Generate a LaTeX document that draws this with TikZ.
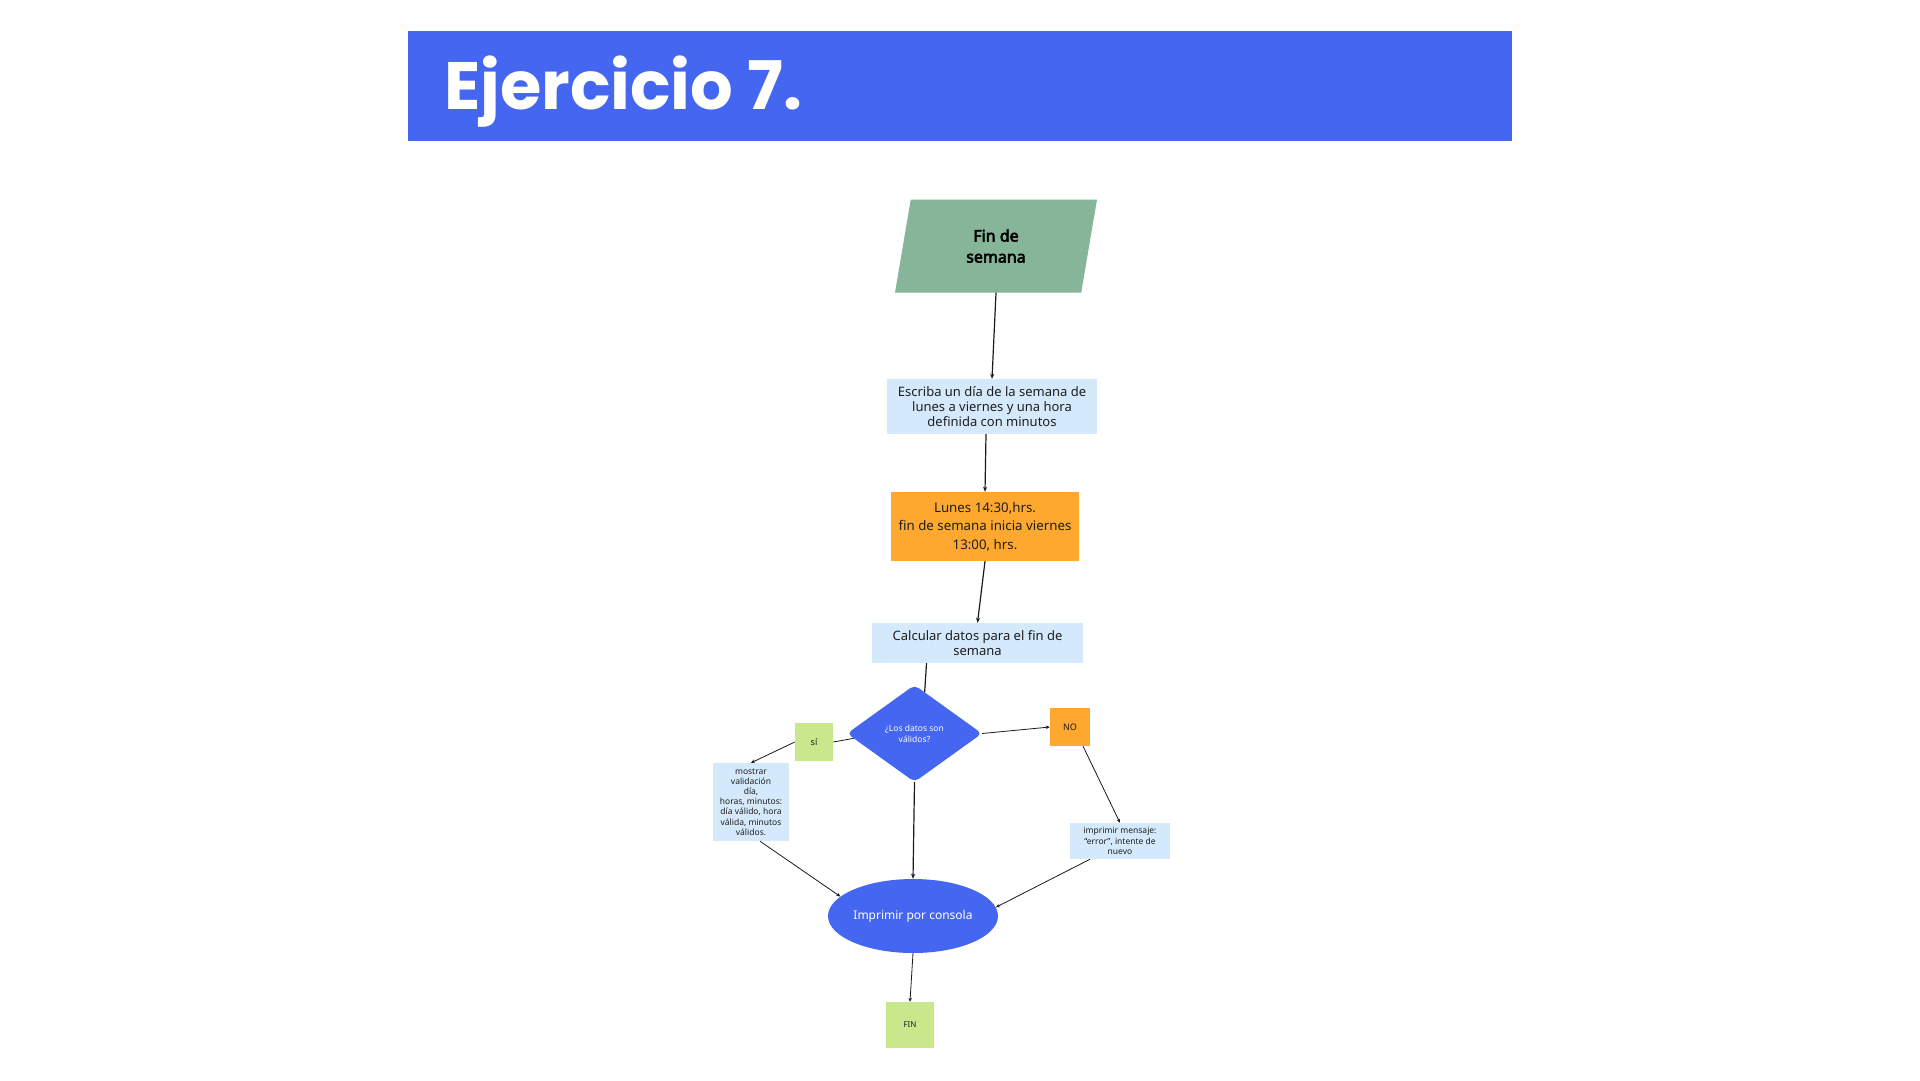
\documentclass[tikz,border=0pt]{standalone}
\usepackage{fontspec}
\setmainfont{Noto Sans}[AutoFakeBold=3.5]
\newfontfamily\titlefont{Poppins}
\usetikzlibrary{shapes.geometric,arrows.meta,calc}
\definecolor{hdrblue}{HTML}{4466F0}
\definecolor{paragreen}{HTML}{87B59A}
\definecolor{boxblue}{HTML}{D4EAFC}
\definecolor{boxorange}{HTML}{FEA82F}
\definecolor{boxgreen}{HTML}{C9E88B}
\definecolor{txtdark}{HTML}{1E1E1E}
\definecolor{lnk}{HTML}{1A1A1A}
\begin{document}
\begin{tikzpicture}[x=1pt,y=-1pt,
  flowbox/.style={rectangle, inner sep=0pt, align=center, text=txtdark},
  lbox/.style={flowbox, fill=boxblue},
  obox/.style={flowbox, fill=boxorange},
  gbox/.style={flowbox, fill=boxgreen},
  arr/.style={draw=lnk, line width=1.2pt, -{Stealth[length=5pt,width=4pt]}},
  sarr/.style={draw=lnk, line width=0.8pt, -{Stealth[length=4pt,width=3.5pt]}}]
\useasboundingbox (0,0) rectangle (1920,1080);
\node[rectangle, fill=hdrblue, minimum width=1104, minimum height=110, inner sep=0pt] (hdr) at (960,86){};
\node[anchor=base west, text=white, inner sep=0pt, font=\titlefont\bfseries\fontsize{67}{84}\selectfont] (title) at (444,109){Ejercicio 7.};
\node[trapezium, trapezium left angle=64.7, trapezium right angle=115.3, trapezium stretches body, minimum width=202, minimum height=93, inner sep=0pt, fill=paragreen, align=center, font=\bfseries\fontsize{16}{21}\selectfont] (fds) at (996,246){Fin de\\semana};
\node[lbox, minimum width=210, minimum height=55, font=\fontsize{13}{15}\selectfont] (esc) at (992,406.5){Escriba un día de la semana de\\lunes a viernes y una hora\\definida con minutos};
\node[obox, minimum width=188, minimum height=69, font=\fontsize{13.3}{18.5}\selectfont] (lun) at (985,526.5){Lunes 14:30,hrs.\\fin de semana inicia viernes\\13:00, hrs.};
\node[lbox, minimum width=211, minimum height=40, font=\fontsize{13}{15}\selectfont] (calc) at (977.5,643){Calcular datos para el fin de\\semana};
\node[diamond, fill=hdrblue, minimum width=135, minimum height=97, inner sep=0pt, rounded corners=5pt, align=center, text=white, font=\fontsize{8.5}{11}\selectfont] (dia) at (914.5,733.5){¿Los datos son\\válidos?};
\node[gbox, minimum width=38, minimum height=38, font=\fontsize{9}{11}\selectfont] (si) at (814,742){sí};
\node[obox, minimum width=40, minimum height=38, font=\fontsize{9}{11}\selectfont] (no) at (1070,727){NO};
\node[lbox, minimum width=76, minimum height=78, font=\fontsize{8.5}{10.2}\selectfont] (most) at (751,802){mostrar\\validación\\día,\\horas, minutos:\\día válido, hora\\válida, minutos\\válidos.};
\node[lbox, minimum width=100, minimum height=36, font=\fontsize{8.5}{10.2}\selectfont] (imp) at (1120,841){imprimir mensaje:\\“error”, intente de\\nuevo};
\node[ellipse, fill=hdrblue, minimum width=170, minimum height=74, inner sep=0pt, text=white, font=\fontsize{12}{15}\selectfont] (cons) at (913,916){Imprimir por consola};
\node[gbox, minimum width=48, minimum height=46, font=\fontsize{8}{10}\selectfont] (fin) at (910,1025){FIN};
\draw[arr](fds.south) -- (esc.north);
\draw[arr]([xshift=-6]esc.south) -- (lun.north);
\draw[arr](lun.south) -- (calc.north);
\draw[draw=lnk, line width=1.2pt]([xshift=-51]calc.south) -- ($(dia.north)!0.15!(dia.east)$);
\draw[draw=lnk, line width=0.8pt]($(dia.west)!0.1!(dia.south)$) -- (si.east);
\draw[sarr](si.west) -- (most.north);
\draw[sarr](dia.east) -- (no.west);
\draw[sarr]([xshift=13]no.south) -- (imp.north);
\draw[arr](dia.south) -- (cons.north);
\draw[sarr]([xshift=9]most.south) -- (cons.165);
\draw[sarr]([xshift=-30]imp.south) -- (cons.6);
\draw[sarr](cons.south) -- (fin.north);
\end{tikzpicture}
\end{document}
